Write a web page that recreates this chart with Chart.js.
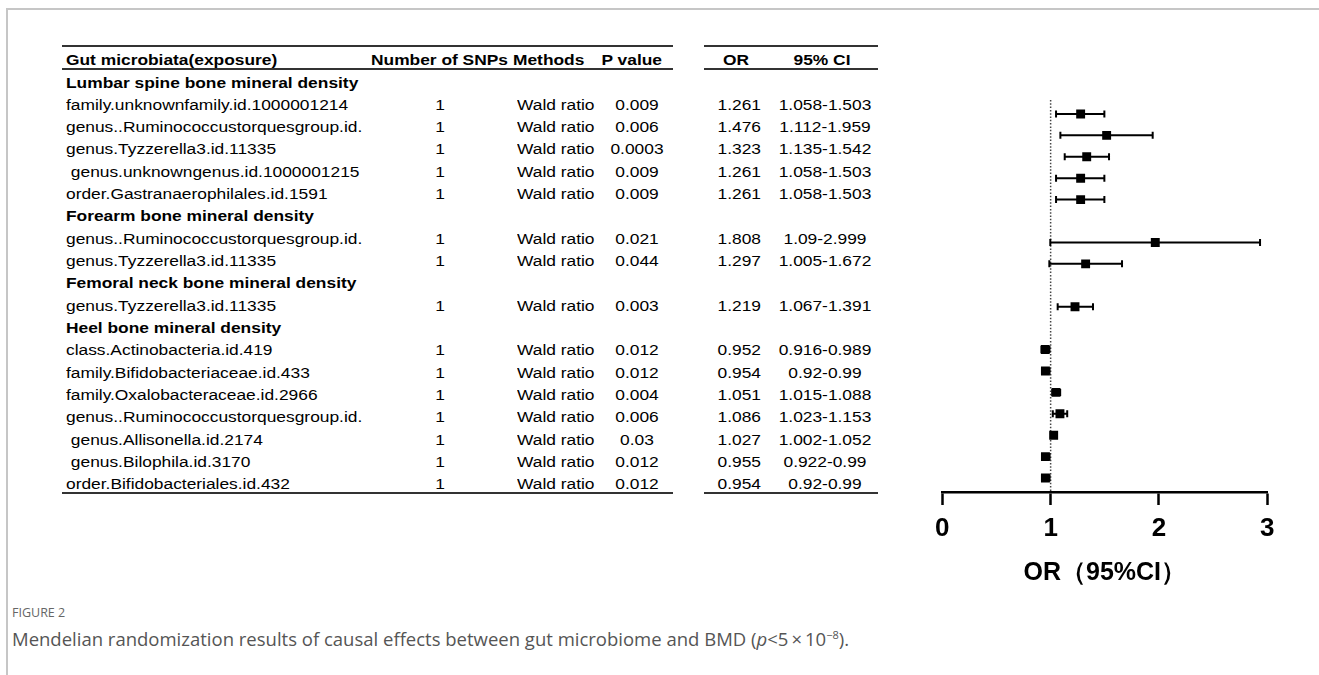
<!DOCTYPE html>
<html>
<head>
<meta charset="utf-8">
<title>Figure 2</title>
<script src="https://cdn.jsdelivr.net/npm/chart.js@4.4.0/dist/chart.umd.min.js"></script>
<style>
  body { margin: 0; background: #fff; width: 1319px; height: 675px; overflow: hidden; position: relative;
         font-family: "Liberation Sans", Arial, sans-serif; }
  #frame { position: absolute; left: 6px; top: 8px; right: 0; bottom: -4px;
           border-top: 2px solid #c6c6c6; border-left: 2px solid #c6c6c6; }
  .cell { position: absolute; font-size: 15.5px; line-height: 20px; height: 20px; white-space: pre; color: #000; }
  .b { font-weight: bold; }
  .rule { position: absolute; height: 2px; background: #333; }
  #plot { position: absolute; left: 900px; top: 60px; width: 419px; height: 550px; }
  #figlabel { position: absolute; left: 12px; top: 605px; font-family: "Open Sans", sans-serif; font-size: 12.5px;
              color: #666; line-height: 16px; }
  #caption { position: absolute; left: 12px; top: 628px; font-family: "Open Sans", sans-serif; font-size: 18.5px;
             color: #555; line-height: 22px; white-space: nowrap; }
  #caption sup { font-size: 11px; line-height: 0; }
</style>
</head>
<body>
<div id="frame"></div>
<div id="table"></div>
<div id="plot"><canvas id="forest"></canvas></div>
<div id="figlabel">FIGURE 2</div>
<div id="caption">Mendelian randomization results of causal effects between gut microbiome and BMD (<i>p</i>&lt;5&#8201;×&#8201;10<sup>−8</sup>).</div>

<script>
// table data
var headers = ['Gut microbiata(exposure)', 'Number of SNPs', 'Methods', 'P value', 'OR', '95% CI'];
var groups = ['Lumbar spine bone mineral density', 'Forearm bone mineral density',
              'Femoral neck bone mineral density', 'Heel bone mineral density'];
var exposures = ['family.unknownfamily.id.1000001214', 'genus..Ruminococcustorquesgroup.id.',
                 'genus.Tyzzerella3.id.11335', ' genus.unknowngenus.id.1000001215',
                 'order.Gastranaerophilales.id.1591',
                 'genus..Ruminococcustorquesgroup.id.', 'genus.Tyzzerella3.id.11335',
                 'genus.Tyzzerella3.id.11335',
                 'class.Actinobacteria.id.419', 'family.Bifidobacteriaceae.id.433',
                 'family.Oxalobacteraceae.id.2966', 'genus..Ruminococcustorquesgroup.id.',
                 ' genus.Allisonella.id.2174', ' genus.Bilophila.id.3170', 'order.Bifidobacteriales.id.432'];
var exposureGroup = [0, 0, 0, 0, 0, 1, 1, 2, 3, 3, 3, 3, 3, 3, 3];
var snps = ['1', '1', '1', '1', '1', '1', '1', '1', '1', '1', '1', '1', '1', '1', '1'];
var methods = ['Wald ratio', 'Wald ratio', 'Wald ratio', 'Wald ratio', 'Wald ratio', 'Wald ratio', 'Wald ratio',
               'Wald ratio', 'Wald ratio', 'Wald ratio', 'Wald ratio', 'Wald ratio', 'Wald ratio', 'Wald ratio', 'Wald ratio'];
var pValues = ['0.009', '0.006', '0.0003', '0.009', '0.009', '0.021', '0.044', '0.003',
               '0.012', '0.012', '0.004', '0.006', '0.03', '0.012', '0.012'];
var orText = ['1.261', '1.476', '1.323', '1.261', '1.261', '1.808', '1.297', '1.219',
              '0.952', '0.954', '1.051', '1.086', '1.027', '0.955', '0.954'];
var ciText = ['1.058-1.503', '1.112-1.959', '1.135-1.542', '1.058-1.503', '1.058-1.503', '1.09-2.999', '1.005-1.672',
              '1.067-1.391', '0.916-0.989', '0.92-0.99', '1.015-1.088', '1.023-1.153', '1.002-1.052', '0.922-0.99', '0.92-0.99'];

// forest plot data (as drawn in the plot)
var plotOR   = [1.277, 1.517, 1.333, 1.277, 1.277, 1.966, 1.323, 1.225, 0.950, 0.952, 1.050, 1.086, 1.028, 0.952, 0.952];
var plotLow  = [1.050, 1.090, 1.130, 1.050, 1.050, 0.997, 0.988, 1.065, 0.916, 0.920, 1.015, 1.020, 1.002, 0.922, 0.920];
var plotHigh = [1.496, 1.942, 1.539, 1.496, 1.496, 2.933, 1.659, 1.391, 0.989, 0.990, 1.088, 1.153, 1.052, 0.990, 0.990];
var xTicks = [0, 1, 2, 3];
var xTitle = 'OR（95%CI）';

// ---- table ----
var SX = 1.12;       // the source picture is stretched sideways
var ROW0 = 82.5, ROWH = 22.33;

function cell(text, x, y, align, bold) {
  var d = document.createElement('div');
  d.className = 'cell' + (bold ? ' b' : '');
  d.textContent = text;
  d.style.left = x + 'px';
  d.style.top = (y - 10) + 'px';
  var tx = align == 'center' ? '-50%' : (align == 'right' ? '-100%' : '0');
  d.style.transformOrigin = align == 'center' ? '50% 50%' : (align == 'right' ? '100% 50%' : '0 50%');
  d.style.transform = 'translateX(' + tx + ') scaleX(' + SX + ')';
  document.getElementById('table').appendChild(d);
}
function rule(x1, x2, y) {
  var d = document.createElement('div');
  d.className = 'rule';
  d.style.left = x1 + 'px';
  d.style.width = (x2 - x1) + 'px';
  d.style.top = y + 'px';
  document.getElementById('table').appendChild(d);
}

cell(headers[0], 66, 60, 'left', true);
cell(headers[1], 371, 60, 'left', true);
cell(headers[2], 513, 60, 'left', true);
cell(headers[3], 662, 60, 'right', true);
cell(headers[4], 736, 60, 'center', true);
cell(headers[5], 822, 60, 'center', true);

[45, 68, 492].forEach(function(y) {
  rule(62, 673, y);
  rule(704, 878, y);
});

var plotRow = [];
var k = 0, lastGroup = -1;
for (var i = 0; i < exposures.length; i++) {
  if (exposureGroup[i] !== lastGroup) {
    lastGroup = exposureGroup[i];
    cell(groups[lastGroup], 66, ROW0 + ROWH * k, 'left', true);
    k++;
  }
  var y = ROW0 + ROWH * k;
  cell(exposures[i], 66, y, 'left', false);
  cell(snps[i], 440, y, 'center', false);
  cell(methods[i], 517, y, 'left', false);
  cell(pValues[i], 637, y, 'center', false);
  cell(orText[i], 760.5, y, 'right', false);
  cell(ciText[i], 825, y, 'center', false);
  plotRow.push(k - 1);
  k++;
}

// ---- forest plot ----
var forestPlugin = {
  id: 'forest',
  beforeDatasetsDraw: function(chart) {
    var ctx = chart.ctx, xs = chart.scales.x, ys = chart.scales.y, area = chart.chartArea;
    ctx.save();
    // line of no effect
    var x1 = xs.getPixelForValue(1);
    ctx.strokeStyle = '#444';
    ctx.lineWidth = 1.5;
    ctx.setLineDash([1.5, 1.8]);
    ctx.beginPath();
    ctx.moveTo(x1, area.top);
    ctx.lineTo(x1, area.bottom);
    ctx.stroke();
    ctx.setLineDash([]);
    // 95% CI whiskers
    ctx.strokeStyle = '#000';
    ctx.lineWidth = 2;
    for (var i = 0; i < plotOR.length; i++) {
      var y = ys.getPixelForValue(plotRow[i]);
      var lo = xs.getPixelForValue(plotLow[i]);
      var hi = xs.getPixelForValue(plotHigh[i]);
      ctx.beginPath();
      ctx.moveTo(lo, y); ctx.lineTo(hi, y);
      ctx.moveTo(lo, y - 3.5); ctx.lineTo(lo, y + 3.5);
      ctx.moveTo(hi, y - 3.5); ctx.lineTo(hi, y + 3.5);
      ctx.stroke();
    }
    ctx.restore();
  }
};

var fontFamily = "'Liberation Sans', Arial, sans-serif";

var forest = new Chart(document.getElementById('forest'), {
  type: 'scatter',
  data: {
    datasets: [{
      data: plotOR.map(function(v, i) { return { x: v, y: plotRow[i] }; }),
      pointStyle: 'rect',
      pointRadius: 6.3,
      pointHoverRadius: 6.3,
      backgroundColor: '#000',
      borderWidth: 0
    }]
  },
  options: {
    responsive: true,
    maintainAspectRatio: false,
    animation: false,
    layout: { padding: { left: 42.3, right: 51.7, top: 40, bottom: 22 } },
    plugins: { legend: { display: false }, tooltip: { enabled: false } },
    scales: {
      x: {
        type: 'linear',
        min: xTicks[0],
        max: xTicks[xTicks.length - 1],
        afterBuildTicks: function(axis) { axis.ticks = xTicks.map(function(v) { return { value: v }; }); },
        ticks: { padding: 8, color: '#000', font: { family: fontFamily, size: 26, weight: 'bold' } },
        grid: { display: true, drawOnChartArea: false, drawTicks: true, tickLength: 13, tickWidth: 2.5, tickColor: '#000' },
        border: { display: true, color: '#000', width: 2.5 },
        title: {
          display: true, text: xTitle, color: '#000',
          font: { family: fontFamily, size: 25, weight: 'bold' },
          padding: { top: 5.8, bottom: 0 }
        }
      },
      y: {
        type: 'linear',
        reverse: true,
        min: -0.65,
        max: 17.65,
        display: false
      }
    }
  },
  plugins: [forestPlugin]
});
</script>
</body>
</html>
